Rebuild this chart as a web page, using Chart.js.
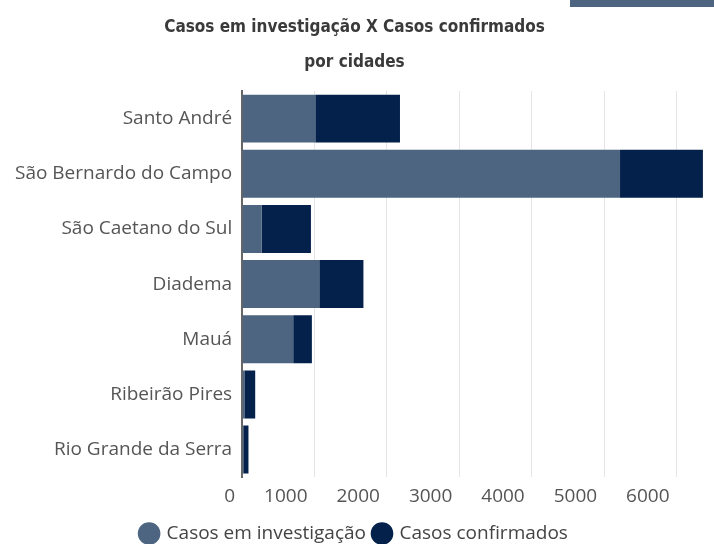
<!DOCTYPE html>
<html>
<head>
<meta charset="utf-8">
<script src="https://cdn.jsdelivr.net/npm/chart.js@4/dist/chart.umd.min.js"></script>
<style>
  html, body { margin: 0; padding: 0; background: #fff; }
  #wrap { position: relative; width: 714px; height: 544px; }
  #topBar { position: absolute; left: 570px; top: 0; width: 144px; height: 7px; background: #4d6580; }
</style>
</head>
<body>
<div id="wrap">
  <canvas id="casesChart" width="714" height="544"></canvas>
  <div id="topBar"></div>
</div>
<script>
// dados
const cidades = ['Santo André', 'São Bernardo do Campo', 'São Caetano do Sul', 'Diadema', 'Mauá', 'Ribeirão Pires', 'Rio Grande da Serra'];
const emInvestigacao = [1010, 5220, 270, 1065, 705, 30, 15];
const confirmados = [1170, 1145, 680, 610, 258, 150, 72];
const xTicks = [0, 1000, 2000, 3000, 4000, 5000, 6000];

const COR_INV = '#4d6580';
const COR_CONF = '#03214a';
const FONTE = '"Open Sans", sans-serif';

new Chart(document.getElementById('casesChart'), {
    type: 'bar',
    data: {
        labels: cidades,
        datasets: [
            {
                label: 'Casos em investigação',
                data: emInvestigacao,
                backgroundColor: COR_INV,
                borderWidth: 0
            },
            {
                label: 'Casos confirmados',
                data: confirmados,
                backgroundColor: COR_CONF,
                borderWidth: 0
            }
        ]
    },
    options: {
        indexAxis: 'y',
        responsive: false,
        animation: false,
        // bottom negativo para empurrar eixo e legenda para baixo
        layout: { padding: { left: 5, right: 10, top: 0, bottom: -9 } },
        datasets: {
            bar: { barPercentage: 0.87, categoryPercentage: 1.0 }
        },
        plugins: {
            title: {
                display: true,
                text: ['Casos em investigação X Casos confirmados', 'por cidades'],
                color: '#3a3a3a',
                font: { family: '"DejaVu Sans Condensed", "DejaVu Sans", sans-serif', style: 'condensed', size: 17, weight: 'bold', lineHeight: 2.06 },
                padding: { top: 10, bottom: 11 }
            },
            legend: {
                position: 'bottom',
                labels: {
                    usePointStyle: true,
                    pointStyle: 'circle',
                    boxWidth: 16,
                    boxHeight: 16,
                    padding: 8,
                    color: '#444',
                    font: { family: FONTE, size: 19 }
                }
            },
            tooltip: { enabled: false }
        },
        scales: {
            x: {
                stacked: true,
                min: 0,
                max: 6380,
                afterBuildTicks: axis => {
                    axis.ticks = xTicks.map(v => ({ value: v }));
                },
                grid: { color: '#e4e4e4', drawTicks: false },
                border: { display: false },
                ticks: {
                    align: 'end',
                    labelOffset: -7,
                    padding: 8,
                    color: '#555',
                    font: { family: FONTE, size: 19 },
                    callback: v => String(v)
                }
            },
            y: {
                stacked: true,
                grid: { display: false, drawTicks: false },
                border: { display: true, color: '#666', width: 2 },
                ticks: {
                    padding: 10,
                    color: '#555',
                    font: { family: FONTE, size: 19 }
                }
            }
        }
    }
});
</script>
</body>
</html>
